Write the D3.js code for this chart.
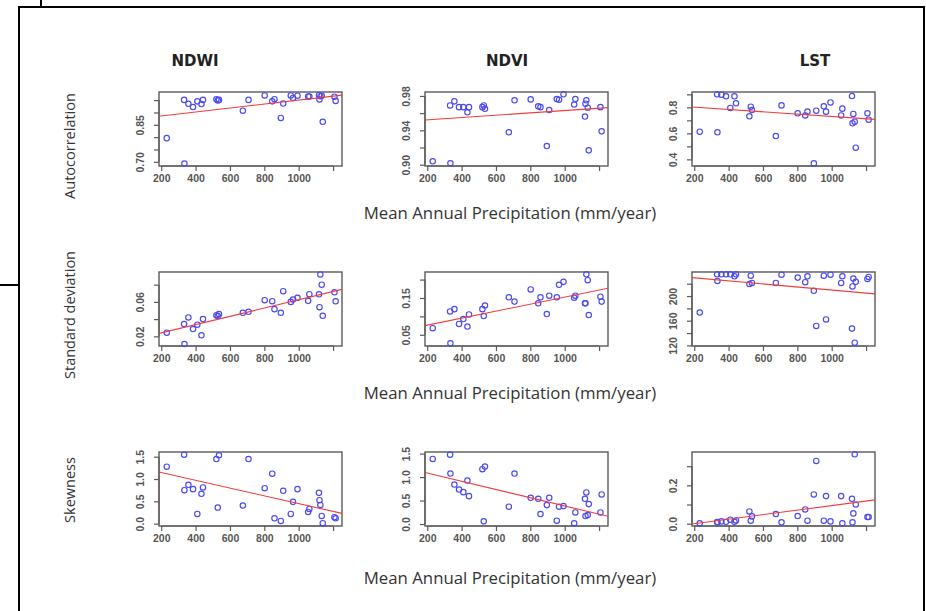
<!DOCTYPE html>
<html>
<head>
<meta charset="utf-8">
<script src="https://cdn.jsdelivr.net/npm/d3@7"></script>
<style>
  html, body { margin: 0; padding: 0; background: #fff; }
  svg { display: block; }
</style>
</head>
<body>
<svg id="chart" width="926" height="611"></svg>
<script>
// Mean annual precipitation (mm/year) for each site
const precip = [232, 333, 335, 358, 385, 410, 434, 443, 521, 529, 536, 675, 708, 802, 846,
                859, 896, 910, 954, 967, 993, 1055, 1062, 1118, 1121, 1126, 1134, 1140, 1208, 1215];

const indices = ["NDWI", "NDVI", "LST"];
const metrics = ["Autocorrelation", "Standard deviation", "Skewness"];

// Autocorrelation per site
const ndwiAuto = [0.796, 0.951, 0.693, 0.935, 0.922, 0.945, 0.934, 0.951, 0.954, 0.949, 0.951, 0.907, 0.951, 0.969, 0.945,
                  0.954, 0.878, 0.936, 0.969, 0.959, 0.968, 0.965, 0.965, 0.970, 0.953, 0.966, 0.968, 0.862, 0.964, 0.947];
const ndviAuto = [0.904, 0.969, 0.9016, 0.9737, 0.967, 0.967, 0.961, 0.967, 0.967, 0.969, 0.965, 0.9377, 0.9749, 0.976, 0.968,
                  0.967, 0.9217, 0.9636, 0.9764, 0.9756, 0.9819, 0.970, 0.9764, 0.956, 0.971, 0.9749, 0.9663, 0.9167, 0.967, 0.9388];
const lstAuto  = [0.613, 0.900, 0.608, 0.897, 0.885, 0.795, 0.885, 0.831, 0.731, 0.805, 0.779, 0.579, 0.815, 0.754, 0.738,
                  0.767, 0.369, 0.774, 0.808, 0.767, 0.838, 0.738, 0.790, 0.887, 0.677, 0.749, 0.690, 0.490, 0.754, 0.705];

// Standard deviation per site
const ndwiSd = [0.0242, 0.0342, 0.0111, 0.0419, 0.0285, 0.0335, 0.0212, 0.0400, 0.0446, 0.0435, 0.0458, 0.0473, 0.0485, 0.0620, 0.0608,
                0.0516, 0.0473, 0.0724, 0.0600, 0.0627, 0.0647, 0.0612, 0.0689, 0.0688, 0.0538, 0.0919, 0.0800, 0.0438, 0.0711, 0.0607];
const ndviSd = [0.0679, 0.1134, 0.0268, 0.1197, 0.0795, 0.0929, 0.0723, 0.1054, 0.1197, 0.1009, 0.1295, 0.1518, 0.1402, 0.1732, 0.1357,
                0.1518, 0.1063, 0.1563, 0.1518, 0.1857, 0.1938, 0.1509, 0.1563, 0.1357, 0.1357, 0.2143, 0.1982, 0.1036, 0.1536, 0.1402];
const lstSd  = [173.3, 235.2, 224.5, 235.2, 235.2, 235.2, 232.0, 235.2, 219.7, 233.0, 221.3, 221.3, 234.7, 229.9, 222.4,
                232.0, 208.5, 151.5, 233.0, 162.1, 234.7, 221.3, 232.0, 147.2, 215.5, 228.3, 124.3, 223.0, 227.7, 230.9];

// Skewness per site
const ndwiSkew = [1.275, 1.545, 0.750, 0.870, 0.773, 0.218, 0.668, 0.810, 1.448, 0.360, 1.530, 0.405, 1.448, 0.795, 1.118,
                  0.120, 0.060, 0.735, 0.218, 0.488, 0.773, 0.263, 0.330, 0.690, 0.526, 0.420, 0.173, 0.010, 0.144, 0.121];
const ndviSkew = [1.386, 1.478, 1.075, 0.841, 0.735, 0.679, 0.926, 0.594, 1.167, 0.057, 1.223, 0.368, 1.075, 0.559, 0.537,
                  0.212, 0.403, 0.559, 0.071, 0.368, 0.382, 0.014, 0.247, 0.537, 0.170, 0.672, 0.191, 0.424, 0.247, 0.630];
const lstSkew  = [0.0017, 0.0087, 0.0070, 0.0120, 0.0100, 0.0210, 0.0100, 0.0170, 0.0640, 0.0156, 0.0380, 0.0500, 0.0070, 0.0400, 0.0745,
                  0.0156, 0.1525, 0.3275, 0.0156, 0.1438, 0.0120, 0.1438, 0.0017, 0.1300, 0.0070, 0.0537, 0.3620, 0.1005, 0.0347, 0.0347];

// Fitted regression line: predicted value at 200 and at 1200 mm/year (row by row)
const trendAt200  = [0.886, 0.9522, 0.802, 0.0241, 0.0761, 229.6, 1.145, 1.085, -0.0003];
const trendAt1200 = [0.966, 0.9657, 0.712, 0.0720, 0.1715, 204.8, 0.275, 0.210, 0.118];

// Axis limits and ticks (row by row)
const yLimits = [[0.683, 0.983], [0.8985, 0.9846], [0.349, 0.918],
                 [0.0088, 0.0947], [0.0196, 0.2206], [119, 239],
                 [-0.0525, 1.605], [-0.042, 1.534], [-0.0121, 0.374]];
const yTicks = [[0.70, 0.75, 0.80, 0.85, 0.90, 0.95], [0.90, 0.92, 0.94, 0.96, 0.98], [0.4, 0.5, 0.6, 0.7, 0.8, 0.9],
                [0.02, 0.04, 0.06, 0.08], [0.05, 0.10, 0.15, 0.20], [120, 140, 160, 180, 200, 220],
                [0, 0.5, 1.0, 1.5], [0, 0.5, 1.0, 1.5], [0, 0.1, 0.2, 0.3]];
const yTickLabels = [["0.70", "", "", "0.85", "", ""], ["0.90", "", "0.94", "", "0.98"], ["0.4", "", "0.6", "", "0.8", ""],
                     ["0.02", "", "0.06", ""], ["0.05", "", "0.15", ""], ["120", "", "160", "", "200", ""],
                     ["0.0", "0.5", "1.0", "1.5"], ["0.0", "0.5", "1.0", "1.5"], ["0.0", "", "0.2", ""]];
const xLimits = [187, 1252];
const xTicks = [200, 400, 600, 800, 1000, 1200];
const xTickLabels = ["200", "400", "600", "800", "1000", ""];
const xTitle = "Mean Annual Precipitation (mm/year)";

const values = [ndwiAuto, ndviAuto, lstAuto, ndwiSd, ndviSd, lstSd, ndwiSkew, ndviSkew, lstSkew];

const svg = d3.select("#chart");

// Outer frame
svg.append("rect").attr("x", 0).attr("y", 0).attr("width", 926).attr("height", 611).attr("fill", "#fff");
svg.append("rect").attr("x", 19).attr("y", 7).attr("width", 905).attr("height", 620)
  .attr("fill", "none").attr("stroke", "#000").attr("stroke-width", 2);
svg.append("line").attr("x1", 41).attr("x2", 41).attr("y1", 0).attr("y2", 7)
  .attr("stroke", "#000").attr("stroke-width", 2);
svg.append("line").attr("x1", 0).attr("x2", 19).attr("y1", 285).attr("y2", 285)
  .attr("stroke", "#000").attr("stroke-width", 2);

// Panel geometry
const colLeft = [159, 425, 692];
const rowTop = [92, 272, 452];
const plotW = 183, plotH = 74;
const headingX = [195, 507, 815];
const axisColor = "#5a5a5a";
const tickFont = "'Liberation Sans', Arial, sans-serif";
const textFont = "'Open Sans', 'Noto Sans', sans-serif";

// Column headings
indices.forEach((name, c) => {
  svg.append("text")
    .attr("x", headingX[c])
    .attr("y", 66)
    .attr("text-anchor", "middle")
    .attr("font-family", "'DejaVu Sans', sans-serif")
    .attr("font-weight", "bold")
    .attr("font-size", 15)
    .attr("fill", "#222")
    .text(name);
});

// Row titles and x-axis titles
const rowTitleY = [146, 315, 490];
const xTitleY = [219, 399, 584];
metrics.forEach((m, r) => {
  svg.append("text")
    .attr("transform", `translate(75,${rowTitleY[r]}) rotate(-90)`)
    .attr("text-anchor", "middle")
    .attr("font-family", textFont)
    .attr("font-size", 14.5)
    .attr("fill", "#333")
    .text(m);
  svg.append("text")
    .attr("x", 510).attr("y", xTitleY[r])
    .attr("text-anchor", "middle")
    .attr("font-family", textFont)
    .attr("font-size", 16.8)
    .attr("fill", "#333")
    .text(xTitle);
});

// Scatter panels
for (let r = 0; r < 3; r++) {
  for (let c = 0; c < 3; c++) {
    const i = r * 3 + c;
    const x0 = colLeft[c], y0 = rowTop[r];
    const g = svg.append("g").attr("transform", `translate(${x0},${y0})`);
    const x = d3.scaleLinear().domain(xLimits).range([0, plotW]);
    const y = d3.scaleLinear().domain(yLimits[i]).range([plotH, 0]);

    // x axis
    const xa = g.append("g").attr("transform", `translate(0,${plotH})`)
      .call(d3.axisBottom(x).tickValues(xTicks).tickSize(5).tickPadding(4)
        .tickFormat((d, k) => xTickLabels[k]));
    // y axis
    const ya = g.append("g")
      .call(d3.axisLeft(y).tickValues(yTicks[i]).tickSize(5).tickPadding(3)
        .tickFormat((d, k) => yTickLabels[i][k]));

    [xa, ya].forEach(a => {
      a.select(".domain").remove();
      a.selectAll(".tick line").attr("stroke", axisColor).attr("stroke-width", 1.2);
      a.selectAll(".tick text")
        .attr("fill", "#555")
        .attr("font-family", tickFont)
        .attr("font-weight", "bold")
        .attr("font-size", 10.5);
    });
    // vertical y tick labels, as drawn parallel to the axis
    ya.selectAll(".tick text")
      .attr("text-anchor", "middle")
      .attr("x", null).attr("dy", null)
      .attr("transform", "translate(-15,0) rotate(-90)")
      .attr("y", 0);

    // axis lines spanning the first to last tick
    const yt = yTicks[i];
    g.append("line")
      .attr("x1", 0).attr("x2", 0)
      .attr("y1", y(yt[0])).attr("y2", y(yt[yt.length - 1]))
      .attr("stroke", axisColor).attr("stroke-width", 1.2);
    g.append("line")
      .attr("y1", plotH).attr("y2", plotH)
      .attr("x1", x(xTicks[0])).attr("x2", x(xTicks[xTicks.length - 1]))
      .attr("stroke", axisColor).attr("stroke-width", 1.2);

    // plot box
    g.append("rect").attr("width", plotW).attr("height", plotH)
      .attr("fill", "none").attr("stroke", axisColor).attr("stroke-width", 1.4);

    // points
    const clip = `clip${i}`;
    g.append("clipPath").attr("id", clip)
      .append("rect").attr("width", plotW).attr("height", plotH);

    g.append("g").selectAll("circle")
      .data(values[i])
      .join("circle")
      .attr("cx", (d, k) => x(precip[k]))
      .attr("cy", d => y(d))
      .attr("r", 2.7)
      .attr("fill", "none")
      .attr("stroke", "#4a4af2")
      .attr("stroke-width", 1.15);

    // regression line across the full plot width
    const slope = (trendAt1200[i] - trendAt200[i]) / 1000;
    const fit = v => trendAt200[i] + slope * (v - 200);
    g.append("line")
      .attr("clip-path", `url(#${clip})`)
      .attr("x1", x(xLimits[0])).attr("y1", y(fit(xLimits[0])))
      .attr("x2", x(xLimits[1])).attr("y2", y(fit(xLimits[1])))
      .attr("stroke", "#f23c3c")
      .attr("stroke-width", 1.1);
  }
}
</script>
</body>
</html>
